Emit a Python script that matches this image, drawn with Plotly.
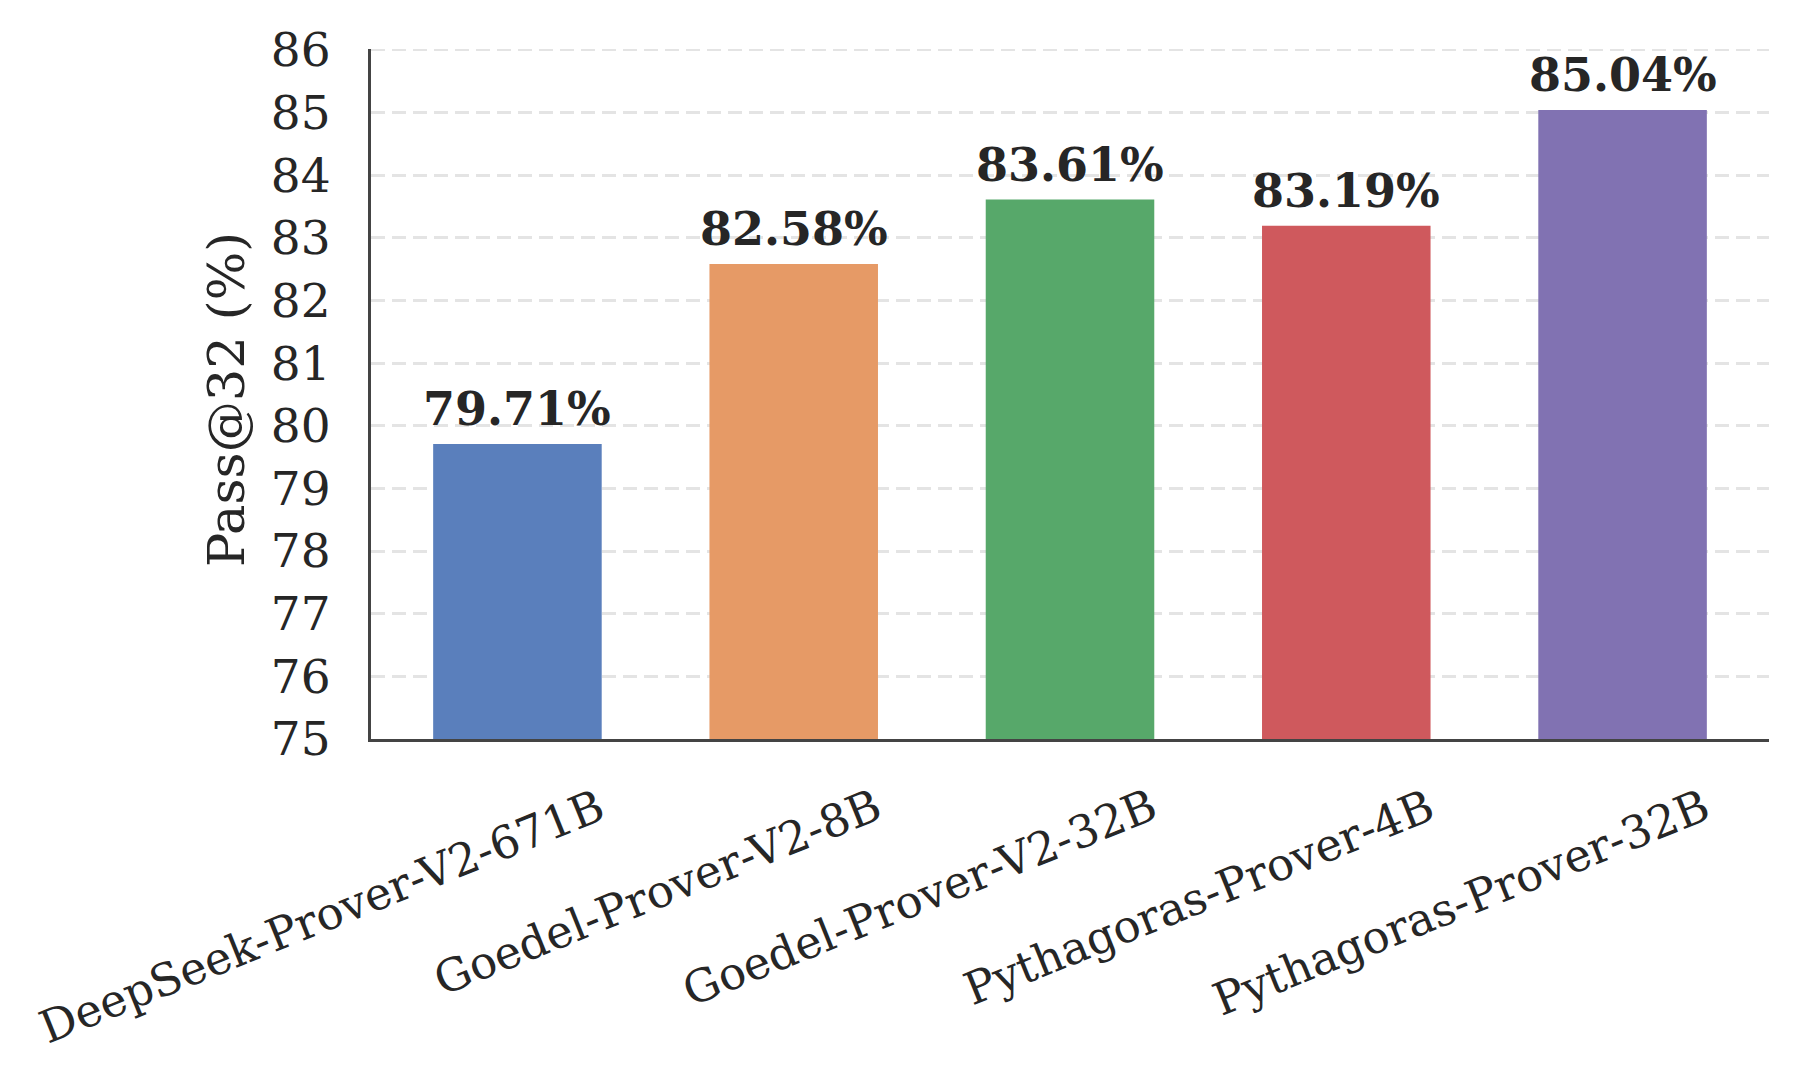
import plotly.graph_objects as go

models = ["DeepSeek-Prover-V2-671B", "Goedel-Prover-V2-8B", "Goedel-Prover-V2-32B",
          "Pythagoras-Prover-4B", "Pythagoras-Prover-32B"]
pass32 = [79.71, 82.58, 83.61, 83.19, 85.04]
colors = ["#5a7fbc", "#e69a66", "#57a86a", "#cf595d", "#8172b2"]
yticks = list(range(75, 87))

FONT = "DejaVu Serif"
TXT = "#262626"
GRID = "#e4e4e4"

x = list(range(len(models)))
fig = go.Figure()
fig.add_trace(go.Bar(
    x=x, y=[v - 75 for v in pass32], base=75, width=0.61,
    marker=dict(color=colors, line=dict(width=0)),
    hoverinfo="skip", showlegend=False,
))

annotations = []
for i, v in enumerate(pass32):
    annotations.append(dict(
        x=i, y=v, xref="x", yref="y", text=f"<b>{v:.2f}%</b>", showarrow=False,
        xanchor="center", yanchor="bottom", yshift=6,
        font=dict(family=FONT, size=46, color=TXT),
    ))
for i, m in enumerate(models):
    annotations.append(dict(
        x=i, y=0, xref="x", yref="paper", text=m, showarrow=False,
        xanchor="right", yanchor="top", xshift=97, yshift=-37, textangle=-22,
        font=dict(family=FONT, size=45, color=TXT),
    ))
annotations.append(dict(
    x=-0.1037, y=0.5, xref="paper", yref="paper", text="Pass@32 (%)", showarrow=False,
    xanchor="center", yanchor="middle", textangle=-90, yshift=-6,
    font=dict(family=FONT, size=51, color=TXT),
))

fig.update_layout(
    width=1800, height=1076,
    margin=dict(l=371, r=31, t=49, b=337),
    paper_bgcolor="white", plot_bgcolor="white",
    font=dict(family=FONT, color=TXT),
    annotations=annotations,
    shapes=[dict(type="line", xref="paper", yref="y", x0=0, x1=1, y0=yticks[-1], y1=yticks[-1],
                 line=dict(color=GRID, width=2.5, dash="14px,7px"), layer="below")],
)
fig.update_xaxes(
    range=[-0.53, 4.53], showticklabels=False, showgrid=False, zeroline=False,
    showline=True, linecolor="#444444", linewidth=3, ticks="",
)
fig.update_yaxes(
    range=[75, 86.012], tickvals=yticks, ticktext=[str(t) for t in yticks],
    tickfont=dict(family=FONT, size=47, color=TXT),
    showgrid=True, gridcolor=GRID, gridwidth=2.5, griddash="14px,7px",
    zeroline=False, showline=True, linecolor="#444444", linewidth=3,
    ticks="", ticklabelstandoff=28,
)

fig.write_html("out.html")
